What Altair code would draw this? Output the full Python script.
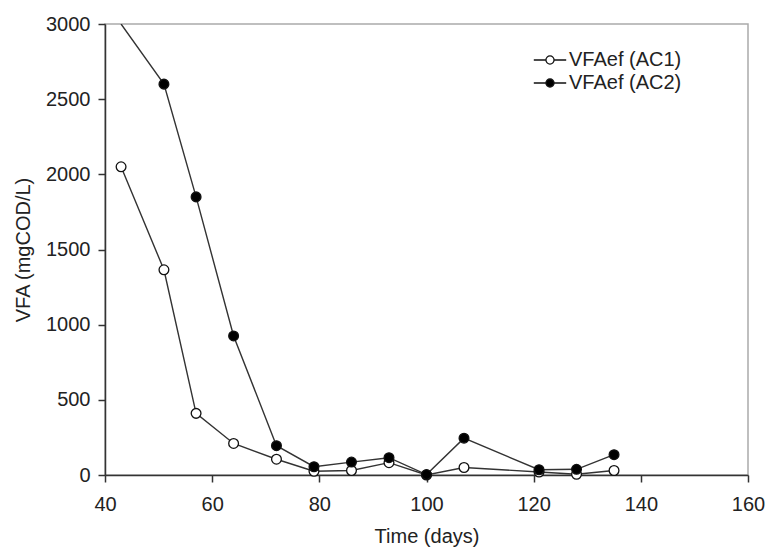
import altair as alt
import pandas as pd

days = [43, 51, 57, 64, 72, 79, 86, 93, 100, 107, 121, 128, 135]
ac1 = [2050, 1365, 410, 210, 105, 25, 30, 82, 0, 50, 20, 5, 30]
ac2 = [3000, 2600, 1850, 925, 195, 55, 86, 115, 3, 245, 35, 38, 135]
series_names = ["VFAef (AC1)", "VFAef (AC2)"]

rows = []
for d, v in zip(days, ac1):
    rows.append({"day": d, "vfa": v, "series": series_names[0]})
for d, v in zip(days, ac2):
    rows.append({"day": d, "vfa": v, "series": series_names[1]})
df = pd.DataFrame(rows)

FONT = "Liberation Sans"
INK = "#222222"

x = alt.X("day:Q", scale=alt.Scale(domain=[40, 160], nice=False),
          axis=alt.Axis(title="Time (days)", values=[40, 60, 80, 100, 120, 140, 160],
                        format="d", grid=False, tickSize=7, labelPadding=12,
                        labelFlush=False, titleY=67, titleBaseline="alphabetic"))
y = alt.Y("vfa:Q", scale=alt.Scale(domain=[0, 3000], nice=False),
          axis=alt.Axis(title="VFA (mgCOD/L)", values=[0, 500, 1000, 1500, 2000, 2500, 3000],
                        format="d", grid=False, tickSize=7, labelPadding=8,
                        labelFlush=False, titleX=-76, titleBaseline="alphabetic"))

lines = alt.Chart(df).mark_line(color="#333333", strokeWidth=1.4, clip=True).encode(
    x=x, y=y, detail="series:N"
)

legend_path = ("M-1.8,0L-0.45,0M0.45,0L1.8,0"
               "M0.45,0A0.45,0.45 0 1 1 -0.45,0A0.45,0.45 0 1 1 0.45,0Z")

points = alt.Chart(df).transform_filter(alt.datum.vfa < 3000).mark_point(
    shape="circle", size=95, filled=False, stroke="#111111", strokeWidth=1.3, opacity=1
).encode(
    x=x, y=y,
    fill=alt.Fill("series:N",
                  scale=alt.Scale(domain=series_names, range=["white", "black"]),
                  legend=alt.Legend(title=None, orient="none", legendX=435, legendY=26,
                                    symbolType=legend_path, symbolSize=324,
                                    symbolStrokeColor="#111111", symbolStrokeWidth=1.3,
                                    labelFontSize=20, labelFont=FONT, labelColor=INK,
                                    labelOffset=9, rowPadding=3, padding=0)),
)

chart = alt.layer(lines, points).properties(
    width=643, height=451,
    autosize=alt.AutoSizeParams(type="none"),
    padding={"left": 105, "top": 24, "right": 19, "bottom": 73},
).configure_view(
    stroke="#aaaaaa", strokeWidth=1.5
).configure_axis(
    domainColor="#333333", domainWidth=1.5, tickColor="#333333", tickWidth=1.5,
    labelFont=FONT, labelFontSize=20, labelColor=INK,
    titleFont=FONT, titleFontSize=20, titleColor=INK, titleFontWeight="normal",
)

chart.save("out.html", embed_options={"renderer": "svg", "actions": False})
